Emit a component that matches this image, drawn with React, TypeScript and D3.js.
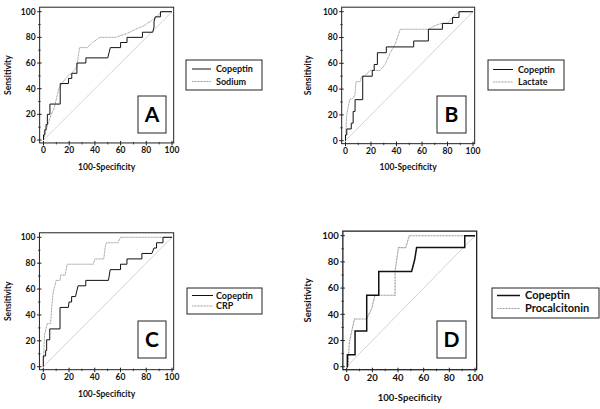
import React from "react";
import * as d3 from "d3";

type Pt = [number, number];

const tickValues = [0, 20, 40, 60, 80, 100];
const minorTickValues = [10, 30, 50, 70, 90];
const xTitle = "100-Specificity";
const yTitle = "Sensitivity";

const copeptinA: Pt[] = [[0,0],[0,4],[1,4],[1,8],[2,8],[2,12],[3,12],[3,20],[5,20],[5,28],[13,28],[13,44],[19.5,44],[19.5,48],[22,48],[22,52],[26,52],[26,60],[33,60],[33,64],[50,64],[51,68],[52,72],[60,72],[60,76],[65,76],[65,80],[77,80],[77,84],[85,84],[86,88],[86,92],[87,96],[91,96],[91,100],[100,100]];
const sodiumA: Pt[] = [[0,0],[2,8],[4,14],[6,20],[8,24],[10,32],[12,40],[15,45],[19,50],[22,52],[26,57],[28,72],[34,72],[38,76],[44,80],[56,80],[65,83],[71,86],[78,89],[84,93],[89,97],[92,100],[100,100]];

const copeptinB: Pt[] = [[0,0],[0,4.5],[1,4.5],[1,9.1],[4.5,9.1],[4.5,13.6],[6,13.6],[6,22.7],[7.5,22.7],[7.5,31.8],[13.5,31.8],[13.5,50],[21,50],[21,54.5],[22.5,54.5],[22.5,59.1],[25,59.1],[25,68.2],[32,68.2],[32,72.7],[53.5,72.7],[53.5,77.3],[65,77.3],[65,86.4],[76,86.4],[76,90.9],[84,90.9],[84,95.5],[89,95.5],[89,100],[100,100]];
const lactateB: Pt[] = [[0,0],[0.8,18.6],[2,26],[3.4,32],[6,33],[7.4,35.4],[8.2,45.7],[11.4,45.7],[12.7,50],[15,50],[19.3,54.5],[27,54.5],[31,59],[35,68],[38.6,74],[43,86.4],[65.6,86.4],[69.6,89],[75,90.9],[80,91],[84,95.5],[89,100],[100,100]];

const copeptinC: Pt[] = [[0,0],[0,8.3],[1.8,8.3],[1.8,12.5],[2.6,12.5],[2.6,20.8],[5,20.8],[5,29.2],[13,29.2],[13,45.8],[19.5,45.8],[20,50],[22,50],[22,54.2],[25,54.2],[27,62.5],[33,62.5],[33,66.7],[50.6,66.7],[52,75],[60,75],[60,79.2],[65,79.2],[65,83.3],[76.6,83.3],[76.6,87.5],[84.4,87.5],[86,91.7],[88,91.7],[88,95.8],[93,95.8],[93,100],[100,100]];
const crpC: Pt[] = [[0,0],[0.5,12.5],[1,25],[3,33.3],[5.7,33.3],[6.5,45.8],[7.8,58.3],[9,62.5],[10,66.7],[13,66.7],[13.5,70.8],[17,70.8],[18.5,79.2],[39,79.2],[40,83.3],[47,83.3],[48,91.7],[49,95.8],[58,95.8],[60,100],[100,100]];

const copeptinD: Pt[] = [[0,0],[0.5,0],[0.5,9.1],[6.5,9.1],[6.5,27.3],[15.6,27.3],[15.6,54.5],[25,54.5],[25,72.7],[50.6,72.7],[53,81.8],[54.5,90.9],[92,90.9],[92,100],[100,100]];
const procalcitoninD: Pt[] = [[0,0],[1,0],[2,18.2],[4,27.3],[6,36.4],[15.6,36.4],[19.5,44.5],[22,54.5],[37.7,54.5],[37.7,72.7],[39,81.8],[40.3,90.9],[46,90.9],[48.8,100],[100,100]];

const diagonal: Pt[] = [[0,0],[100,100]];

const panelLetters = ["A", "B", "C", "D"];
const seriesNames = [["Copeptin", "Sodium"], ["Copeptin", "Lactate"], ["Copeptin", "CRP"], ["Copeptin", "Procalcitonin"]];
const seriesData = [[copeptinA, sodiumA], [copeptinB, lactateB], [copeptinC, crpC], [copeptinD, procalcitoninD]];

const FONT = "Lato, 'Open Sans', sans-serif";

interface Layout {
  x0: number; x100: number; y0: number; y100: number;
  fs: number; titleFs: number; sw: number;
  box: [number, number, number, number];
  legend: [number, number, number, number];
  legLine: [number, number]; legText: number; legY: [number, number]; legFs: number;
  xTitleY: number; yTitleX: number;
}

const layouts: Layout[] = [
  { x0: 43.5, x100: 172, y0: 140, y100: 11.7, fs: 8.5, titleFs: 8.5, sw: 1,
    box: [138, 96, 28, 37], legend: [186, 60, 76, 30], legLine: [192, 211], legText: 216, legY: [69, 81.5], legFs: 9, xTitleY: 167, yTitleX: 8 },
  { x0: 345.5, x100: 473, y0: 140.7, y100: 11.7, fs: 8.5, titleFs: 8.5, sw: 1,
    box: [437, 96, 29, 37], legend: [488, 60, 76, 30], legLine: [493, 513], legText: 518, legY: [69.5, 82], legFs: 9, xTitleY: 167, yTitleX: 308 },
  { x0: 43.3, x100: 172, y0: 366.7, y100: 237.3, fs: 8.5, titleFs: 8.5, sw: 1,
    box: [138, 321, 28, 37], legend: [187, 288, 75, 26], legLine: [192, 213], legText: 216, legY: [295.5, 306], legFs: 9, xTitleY: 394, yTitleX: 8 },
  { x0: 346.7, x100: 475, y0: 366.7, y100: 235.7, fs: 9.5, titleFs: 9.5, sw: 1.5,
    box: [437, 321, 29, 37], legend: [492, 288, 107, 30], legLine: [497, 520], legText: 525, legY: [295.5, 308.5], legFs: 11, xTitleY: 398, yTitleX: 308 },
];

function Panel({ idx }: { idx: number }) {
  const L = layouts[idx];
  const xs = d3.scaleLinear().domain([0, 100]).range([L.x0, L.x100]);
  const ys = d3.scaleLinear().domain([0, 100]).range([L.y0, L.y100]);
  const line = d3.line<Pt>().x((d) => xs(d[0])).y((d) => ys(d[1]));
  const [a, b] = seriesData[idx];
  const fl = xs(-3), fr = xs(101.3), ft = ys(103.5), fb = ys(-2.3);
  const gray = "#8f8f8f";
  return (
    <g>
      <rect x={fl} y={ft} width={fr - fl} height={fb - ft} fill="none" stroke="#222" strokeWidth={L.sw === 1 ? 1 : 1.3} />
      <path d={line(diagonal) || ""} fill="none" stroke="#c8c8c8" strokeWidth={0.8} />
      {tickValues.map((t) => (
        <g key={"t" + t}>
          <line x1={fl - 2.5} x2={fl + 2} y1={ys(t)} y2={ys(t)} stroke="#222" strokeWidth={1} />
          <line x1={xs(t)} x2={xs(t)} y1={fb - 2} y2={fb + 2.5} stroke="#222" strokeWidth={1} />
          <text x={fl - 4} y={ys(t)} dy="0.35em" textAnchor="end" fontSize={L.fs} fontWeight={700} fontFamily={FONT} fill="#111">{t}</text>
          <text x={xs(t)} y={fb + 4} dy="0.75em" textAnchor="middle" fontSize={L.fs} fontWeight={700} fontFamily={FONT} fill="#111">{t}</text>
        </g>
      ))}
      {minorTickValues.map((t) => (
        <g key={"m" + t}>
          <line x1={fl - 1.5} x2={fl + 1} y1={ys(t)} y2={ys(t)} stroke="#222" strokeWidth={0.8} />
          <line x1={xs(t)} x2={xs(t)} y1={fb - 1} y2={fb + 1.5} stroke="#222" strokeWidth={0.8} />
        </g>
      ))}
      <path d={line(b) || ""} fill="none" stroke={gray} strokeWidth={L.sw === 1 ? 0.9 : 1.1} strokeDasharray="1,0.5" />
      <path d={line(a) || ""} fill="none" stroke="#111" strokeWidth={L.sw} />
      <text x={(fl + fr) / 2} y={L.xTitleY} dy="0.35em" textAnchor="middle" fontSize={L.titleFs} fontWeight={700} fontFamily={FONT} fill="#111">{xTitle}</text>
      <text transform={`translate(${L.yTitleX},${(ft + fb) / 2}) rotate(-90)`} dy="0.35em" textAnchor="middle" fontSize={L.titleFs} fontWeight={700} fontFamily={FONT} fill="#111">{yTitle}</text>
      <rect x={L.box[0]} y={L.box[1]} width={L.box[2]} height={L.box[3]} fill="#fff" stroke="#222" strokeWidth={1} />
      <text x={L.box[0] + L.box[2] / 2} y={L.box[1] + L.box[3] / 2} dy="0.36em" textAnchor="middle" fontSize={21} fontWeight={700} fontFamily={FONT} fill="#000">{panelLetters[idx]}</text>
      <rect x={L.legend[0]} y={L.legend[1]} width={L.legend[2]} height={L.legend[3]} fill="#fff" stroke="#222" strokeWidth={1} />
      <line x1={L.legLine[0]} x2={L.legLine[1]} y1={L.legY[0]} y2={L.legY[0]} stroke="#111" strokeWidth={L.sw} />
      <line x1={L.legLine[0]} x2={L.legLine[1]} y1={L.legY[1]} y2={L.legY[1]} stroke={gray} strokeWidth={0.9} strokeDasharray="1,0.5" />
      <text x={L.legText} y={L.legY[0]} dy="0.35em" fontSize={L.legFs} fontWeight={700} fontFamily={FONT} fill="#111">{seriesNames[idx][0]}</text>
      <text x={L.legText} y={L.legY[1]} dy="0.35em" fontSize={L.legFs} fontWeight={700} fontFamily={FONT} fill="#111">{seriesNames[idx][1]}</text>
    </g>
  );
}

export default function App() {
  return (
    <svg width={600} height={409} style={{ position: "absolute", left: 0, top: 0, background: "#fff" }}>
      <rect width={600} height={409} fill="#fff" />
      {[0, 1, 2, 3].map((i) => <Panel key={i} idx={i} />)}
    </svg>
  );
}
